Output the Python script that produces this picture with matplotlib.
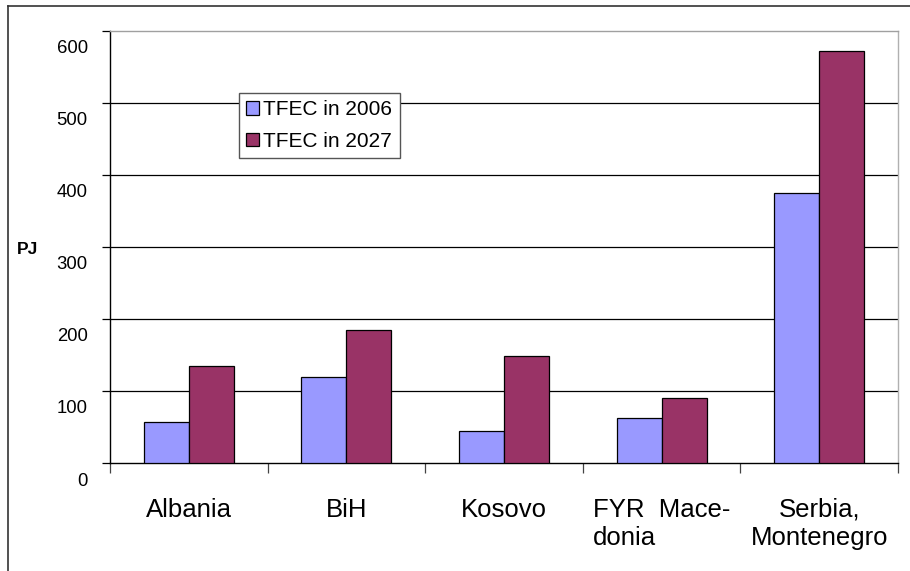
import numpy as np
import matplotlib.pyplot as plt
from matplotlib.patches import Patch
from matplotlib.transforms import ScaledTranslation
from matplotlib.lines import Line2D

plt.rcParams['font.family'] = ['Liberation Sans', 'DejaVu Sans']

# data (PJ)
countries = ['Albania', 'BiH', 'Kosovo', 'FYR  Mace-\ndonia', 'Serbia,\nMontenegro']
tfec_2006 = [57, 120, 44, 62, 374]
tfec_2027 = [134, 185, 149, 90, 572]
series_names = ['TFEC in 2006', 'TFEC in 2027']
y_ticks = [0, 100, 200, 300, 400, 500, 600]

col_2006 = '#9999FF'
col_2027 = '#993366'

fig = plt.figure(figsize=(9.1, 5.71), dpi=100)
ax = fig.add_axes([110/910, 1 - 463/571, 788/910, 432.5/571])

x = np.arange(len(countries))
w = 0.285
ax.bar(x - w/2, tfec_2006, w, color=col_2006, edgecolor='black', linewidth=0.9, zorder=3)
ax.bar(x + w/2, tfec_2027, w, color=col_2027, edgecolor='black', linewidth=0.9, zorder=3)

ax.set_xlim(-0.5, len(countries) - 0.5)
ax.set_ylim(0, 600)

# gridlines
for v in y_ticks[1:-1]:
    ax.axhline(v, color='black', linewidth=0.9, zorder=1)

ax.set_yticks(y_ticks)
ax.tick_params(axis='y', length=6, width=0.9, pad=10, labelsize=13.3)
off = ScaledTranslation(0, -16/100, fig.dpi_scale_trans)
for lab in ax.get_yticklabels():
    lab.set_transform(lab.get_transform() + off)

# category boundaries as major ticks, names on minor ticks
ax.set_xticks(np.arange(-0.5, len(countries)))
ax.set_xticklabels([])
ax.tick_params(axis='x', which='major', length=7, width=0.9, color='#444444')
ax.set_xticks(x, minor=True)
ax.set_xticklabels(countries, minor=True, fontsize=18.5, linespacing=1.25)
ax.tick_params(axis='x', which='minor', length=0, pad=25)
for lab in ax.get_xticklabels(minor=True):
    lab.set_verticalalignment('top')
    if 'Mace' in lab.get_text():
        lab.set_multialignment('left')

ax.spines['left'].set_color('black')
ax.spines['bottom'].set_color('black')
ax.spines['top'].set_color('#a0a0a0')
ax.spines['right'].set_color('#b0b0b0')
for s in ax.spines.values():
    s.set_linewidth(1.0)

handles = [Patch(facecolor=col_2006, edgecolor='black', linewidth=0.9),
           Patch(facecolor=col_2027, edgecolor='black', linewidth=0.9)]
leg = ax.legend(handles, series_names, loc='upper left',
                bbox_to_anchor=(129/788, (463-93)/432.5), fontsize=15,
                handlelength=0.62, handleheight=0.62, handletextpad=0.2,
                labelspacing=0.6, borderpad=0.35, borderaxespad=0,
                fancybox=False, framealpha=1, edgecolor='#555555')
leg.get_frame().set_linewidth(1.0)

fig.text(17/910, 1 - 249/571, 'PJ', fontsize=12.5, fontweight='bold',
         ha='left', va='center')

# outer frame lines (top and left)
fig.add_artist(Line2D([8/910, 1], [1 - 6/571, 1 - 6/571], color='#333333', linewidth=1.2))
fig.add_artist(Line2D([8/910, 8/910], [0, 1 - 6/571], color='#333333', linewidth=1.2))

fig.savefig('out.png', dpi=100)
